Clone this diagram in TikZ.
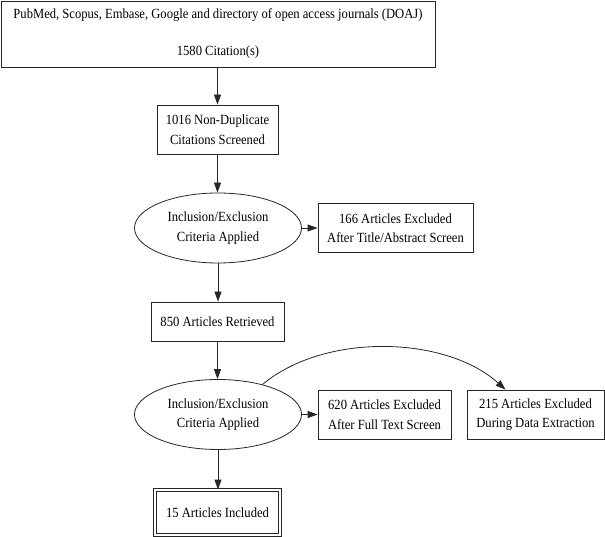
\documentclass[tikz,border=0pt]{standalone}
\usepackage{fontspec}
\setmainfont{Liberation Serif}[FakeStretch=0.9]
\usetikzlibrary{arrows.meta,shapes.geometric}
\tikzset{
	box/.style={draw=black!85, line width=0.8pt, rectangle, inner sep=0pt, align=center, minimum height=49pt},
	crit/.style={draw=black!85, line width=0.8pt, ellipse, inner sep=0pt, align=center, minimum width=167pt, minimum height=70pt},
	final/.style={box, double, double distance=2.5pt, minimum width=125pt, minimum height=45pt},
	arr/.style={draw=black!85, line width=0.8pt, -{Triangle[length=10pt,width=7pt]}}
}

\begin{document}
\begin{tikzpicture}[x=1pt, y=-1pt, font=\fontsize{14}{19.5}\selectfont]
			%%%%% START %%%%%
			\useasboundingbox (0, 0) rectangle (605, 537);
			
			\node[box, minimum width=434pt, minimum height=66pt] (search) at (218, 34) {PubMed, Scopus, Embase, Google and directory of open access journals (DOAJ)\\[17.5pt]1580 Citation(s)};
			\node[box, minimum width=121pt] (nodup) at (217.5, 129.5) {1016 Non-Duplicate\\Citations Screened};
			
			\node[crit] (crita) at (218, 228) {Inclusion/Exclusion\\Criteria Applied};
			\node[box, minimum width=155pt] (excla) at (395.5, 228) {166 Articles Excluded\\After Title/Abstract Screen};
			
			\node[box, minimum width=133pt, minimum height=39pt] (retr) at (217.5, 321.5) {850 Articles Retrieved};
			
			\node[crit] (critb) at (218, 414.5) {Inclusion/Exclusion\\Criteria Applied};
			\node[box, minimum width=133pt] (exclb) at (384.5, 414.5) {620 Articles Excluded\\After Full Text Screen};
			\node[box, minimum width=137pt] (exclc) at (535.5, 414.5) {215 Articles Excluded\\During Data Extraction};
			
			\node[final] (incl) at (217.5, 512.5) {15 Articles Included};
			
			\draw[arr] (search.south -| nodup) -- (nodup.north);
			\draw[arr] (nodup.south) -- (crita.north -| nodup);
			\draw[arr] (crita.east) -- (excla.west);
			\draw[arr] (crita.south) -- (retr.north -| crita);
			\draw[arr] (retr.south) -- (critb.north -| retr);
			\draw[arr] (critb.east) -- (exclb.west);
			\draw[arr] (critb.34) to[out=40, in=138, looseness=0.85] ([xshift=-30pt]exclc.north);
			\draw[arr] (critb.south) -- (incl.north -| critb);
			
			%%%%% END %%%%%
		\end{tikzpicture}
\end{document}
